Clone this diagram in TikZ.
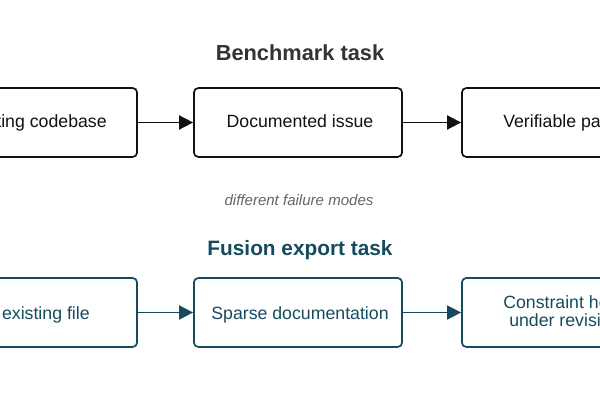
\documentclass[tikz,border=0pt]{standalone}
\usepackage{fontspec}
\setmainfont{Liberation Sans}
\usepackage{tikz}
\usetikzlibrary{calc,positioning,arrows.meta}
\definecolor{ink}{HTML}{111111}
\definecolor{headgray}{HTML}{333333}
\definecolor{notegray}{HTML}{666666}
\definecolor{fusionteal}{HTML}{164B5F}
\tikzset{
	stage/.style={draw, rounded corners=3pt, line width=1.2pt,
		minimum width=5.2cm, minimum height=1.72cm, inner sep=0pt},
	flow/.style={-{Triangle[length=10pt,width=10pt]}, line width=1.2pt},
	heading/.style={font=\fontsize{15.5}{18}\selectfont\bfseries},
	caption/.style={font=\fontsize{12.6}{15}\selectfont, inner sep=0pt},
}

\begin{document}
\begin{tikzpicture}[x=0.025cm, y=-0.025cm]
        \useasboundingbox (0,0) rectangle (600,400);
        \fill[white] (0,0) rectangle (600,400);
        \clip (0,0) rectangle (600,400);
        \node[heading, headgray] (benchhead) at (300,53) {Benchmark task};
        \node[stage, ink] (codebase) at (33,122.5) {};
        \node[stage, ink] (issue) at (298,122.5) {};
        \node[stage, ink] (patch) at (566,122.5) {};
        \node[caption, ink, anchor=base east] (codebasetext) at (107,128) {ting codebase};
        \node[caption, ink, anchor=base] (issuetext) at (300,128) {Documented issue};
        \node[caption, ink, anchor=base west] (patchtext) at (503,128) {Verifiable pat};
        \draw[flow, ink] (codebase) -- (issue);
        \draw[flow, ink] (issue) -- (patch);
        \node[notegray, font=\fontsize{10.7}{12}\selectfont\itshape] (modes) at (299,200) {different failure modes};
        \node[heading, fusionteal, font=\fontsize{14.8}{18}\selectfont\bfseries] (fusionhead) at (300,250) {Fusion export task};
        \node[stage, fusionteal] (existing) at (33,312.5) {};
        \node[stage, fusionteal] (sparse) at (298,312.5) {};
        \node[stage, fusionteal] (constraint) at (566,312.5) {};
        \node[caption, fusionteal, anchor=base east] (existingtext) at (90,320) {existing file};
        \node[caption, fusionteal, anchor=base] (sparsetext) at (300,320) {Sparse documentation};
        \node[caption, fusionteal, anchor=base west] (constrainttext) at (503,309) {Constraint he};
        \node[caption, fusionteal, anchor=base west] (revisiontext) at (509,327) {under revisi};
        \draw[flow, fusionteal] (existing) -- (sparse);
        \draw[flow, fusionteal] (sparse) -- (constraint);
    \end{tikzpicture}
\end{document}
